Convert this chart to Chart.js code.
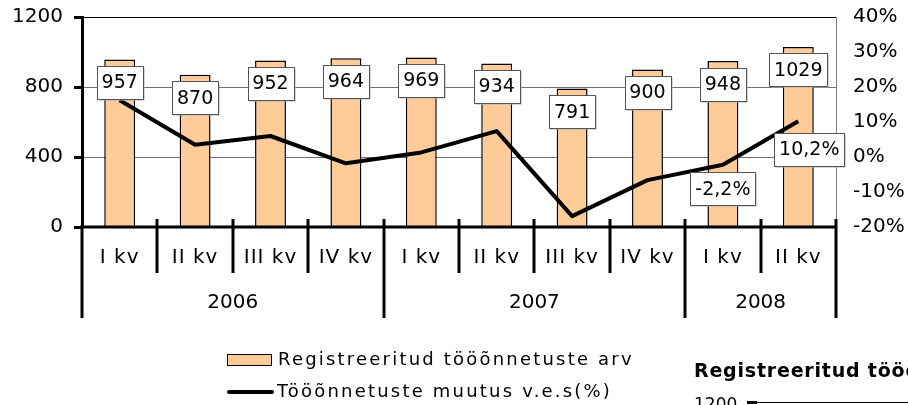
<!DOCTYPE html>
<html><head><meta charset="utf-8">
<script src="https://cdn.jsdelivr.net/npm/chart.js@4.4.0/dist/chart.umd.min.js"></script>
<style>html,body{margin:0;padding:0;background:#fff;overflow:hidden}canvas{display:block}</style>
</head><body>
<canvas id="c" width="908" height="405"></canvas>
<script>
// ---- data ----
const quarters = ['I kv','II kv','III kv','IV kv','I kv','II kv','III kv','IV kv','I kv','II kv'];
const years = ['2006','2007','2008'];
const yearSpans = [4,4,2];
const accidents = [957,870,952,964,969,934,791,900,948,1029];
const changePct = [16.2,3.5,6.0,-1.8,1.3,7.4,-16.9,-6.6,-2.2,10.2];
const changeLabels = [null,null,null,null,null,null,null,null,'-2,2%','10,2%'];
const leftTicks = [0,400,800,1200];
const rightTicks = [-20,-10,0,10,20,30,40];
const seriesNames = ['Registreeritud tööõnnetuste arv','Tööõnnetuste muutus v.e.s(%)'];
const nextChartTitle = 'Registreeritud tööõnnetuste arv';
const nextChartTick = '1200';

const FONT = 'Verdana, "DejaVu Sans", sans-serif';
const BAR_FILL = '#FFCC99';

function drawBox(ctx, txt, cx, cy){
  const w = Math.round(ctx.measureText(txt).width + 10), h = 33;
  const x = Math.round(cx - w/2) + 0.5, y = Math.round(cy - h/2) + 0.5;
  ctx.fillStyle = '#b0b0b0'; ctx.fillRect(x+1, y+1, w, h);
  ctx.fillStyle = '#fff'; ctx.fillRect(x, y, w, h);
  ctx.strokeStyle = '#555'; ctx.lineWidth = 1; ctx.strokeRect(x, y, w, h);
  ctx.fillStyle = '#000'; ctx.fillText(txt, cx, cy + 1);
}

const labelPlugin = {
  id: 'boxLabels',
  afterDatasetsDraw(chart){
    const ctx = chart.ctx;
    ctx.save();
    ctx.font = '19px ' + FONT;
    ctx.textAlign = 'center'; ctx.textBaseline = 'middle';
    chart.getDatasetMeta(0).data.forEach((el, i) => {
      drawBox(ctx, String(accidents[i]), el.x, el.y + 23);
    });
    const lm = chart.getDatasetMeta(1).data;
    lm.forEach((el, i) => {
      const t = changeLabels[i]; if (!t) return;
      const last = i === lm.length - 1;
      drawBox(ctx, t, el.x + (last ? 11 : 0), el.y + (last ? 28 : 24));
    });
    ctx.restore();
  }
};

const axisPlugin = {
  id: 'multiAxis',
  afterDraw(chart){
    const {ctx, chartArea: a, scales: {x}} = chart;
    const n = quarters.length;
    const bound = i => i === 0 ? a.left : i === n ? a.right :
      (x.getPixelForValue(i - 1) + x.getPixelForValue(i)) / 2;
    ctx.save();
    ctx.strokeStyle = '#000';
    ctx.lineWidth = 3;
    ctx.beginPath(); ctx.moveTo(a.left - 2, a.bottom); ctx.lineTo(a.right + 1, a.bottom); ctx.stroke();
    const yearStarts = [0]; yearSpans.forEach((s, k) => yearStarts.push(yearStarts[k] + s));
    for (let i = 0; i <= n; i++){
      const bx = Math.round(bound(i));
      const isYear = yearStarts.includes(i);
      ctx.beginPath();
      ctx.moveTo(bx, i === 0 ? a.bottom : a.bottom - 8);
      ctx.lineTo(bx, isYear ? a.bottom + 91 : a.bottom + 46);
      ctx.stroke();
    }
    ctx.fillStyle = '#000';
    ctx.font = '20px ' + FONT;
    ctx.textAlign = 'center'; ctx.textBaseline = 'middle';
    ctx.letterSpacing = '1px';
    quarters.forEach((q, i) => ctx.fillText(q, x.getPixelForValue(i), a.bottom + 31));
    ctx.letterSpacing = '0px';
    years.forEach((yv, k) => {
      const cx = (bound(yearStarts[k]) + bound(yearStarts[k + 1])) / 2;
      ctx.fillText(yv, cx, a.bottom + 76);
    });
    // legend
    ctx.font = '18px ' + FONT;
    ctx.textAlign = 'left';
    ctx.letterSpacing = '2.2px';
    ctx.fillStyle = BAR_FILL; ctx.fillRect(227.5, 354.5, 44, 11);
    ctx.lineWidth = 1; ctx.strokeRect(227.5, 354.5, 44, 11);
    ctx.fillStyle = '#000'; ctx.fillText(seriesNames[0], 278, 360);
    ctx.lineWidth = 4; ctx.lineCap = 'round';
    ctx.beginPath(); ctx.moveTo(229, 392); ctx.lineTo(272, 392); ctx.stroke();
    ctx.fillText(seriesNames[1], 277, 392);
    // neighbouring chart fragment
    ctx.font = 'bold 19px ' + FONT;
    ctx.letterSpacing = '0.8px';
    ctx.textBaseline = 'alphabetic';
    ctx.fillText(nextChartTitle, 694, 377);
    ctx.font = '17px ' + FONT;
    ctx.letterSpacing = '0px';
    ctx.textBaseline = 'top';
    ctx.fillText(nextChartTick, 694, 397);
    ctx.lineCap = 'butt';
    ctx.lineWidth = 3; ctx.beginPath(); ctx.moveTo(747, 402.5); ctx.lineTo(757, 402.5); ctx.stroke();
    ctx.lineWidth = 1; ctx.beginPath(); ctx.moveTo(757, 402.5); ctx.lineTo(908, 402.5); ctx.stroke();
    ctx.restore();
  }
};

function fixY(width){
  return s => { s.width = width; s.paddingTop = 0; s.paddingBottom = 0; };
}

new Chart(document.getElementById('c'), {
  data: {
    labels: quarters,
    datasets: [
      { type: 'bar', label: seriesNames[0], data: accidents, yAxisID: 'y', order: 2,
        backgroundColor: BAR_FILL, borderColor: '#000', borderWidth: 1.5,
        barPercentage: 0.41, categoryPercentage: 1 },
      { type: 'line', label: seriesNames[1], data: changePct, yAxisID: 'y1', order: 1,
        borderColor: '#000', borderWidth: 4, pointRadius: 0, tension: 0, fill: false,
        borderJoinStyle: 'round' }
    ]
  },
  options: {
    responsive: false, animation: false, devicePixelRatio: 1,
    layout: { padding: { top: 17, bottom: 178, left: 0, right: 0 } },
    plugins: { legend: { display: false }, tooltip: { enabled: false } },
    scales: {
      x: { display: false, offset: true },
      y: {
        position: 'left', min: leftTicks[0], max: leftTicks[leftTicks.length - 1],
        afterBuildTicks: s => { s.ticks = leftTicks.map(v => ({value: v})); },
        afterFit: fixY(82),
        ticks: { color: '#000', font: { family: FONT, size: 20 }, padding: 11,
                 callback: v => String(v) },
        grid: {
          color: c => c.tick && c.tick.value === 1200 ? '#000' : '#707070',
          lineWidth: 1, tickLength: 8, tickWidth: 3, tickColor: '#000', drawTicks: true
        },
        border: { display: true, color: '#000', width: 3 }
      },
      y1: {
        position: 'right', min: rightTicks[0], max: rightTicks[rightTicks.length - 1],
        afterBuildTicks: s => { s.ticks = rightTicks.map(v => ({value: v})); },
        afterFit: fixY(72),
        ticks: { color: '#000', font: { family: FONT, size: 20 }, padding: 17,
                 callback: v => v + '%' },
        grid: { display: false, drawTicks: false },
        border: { display: true, color: '#808080', width: 1 }
      }
    }
  },
  plugins: [labelPlugin, axisPlugin]
});
</script>
</body></html>
